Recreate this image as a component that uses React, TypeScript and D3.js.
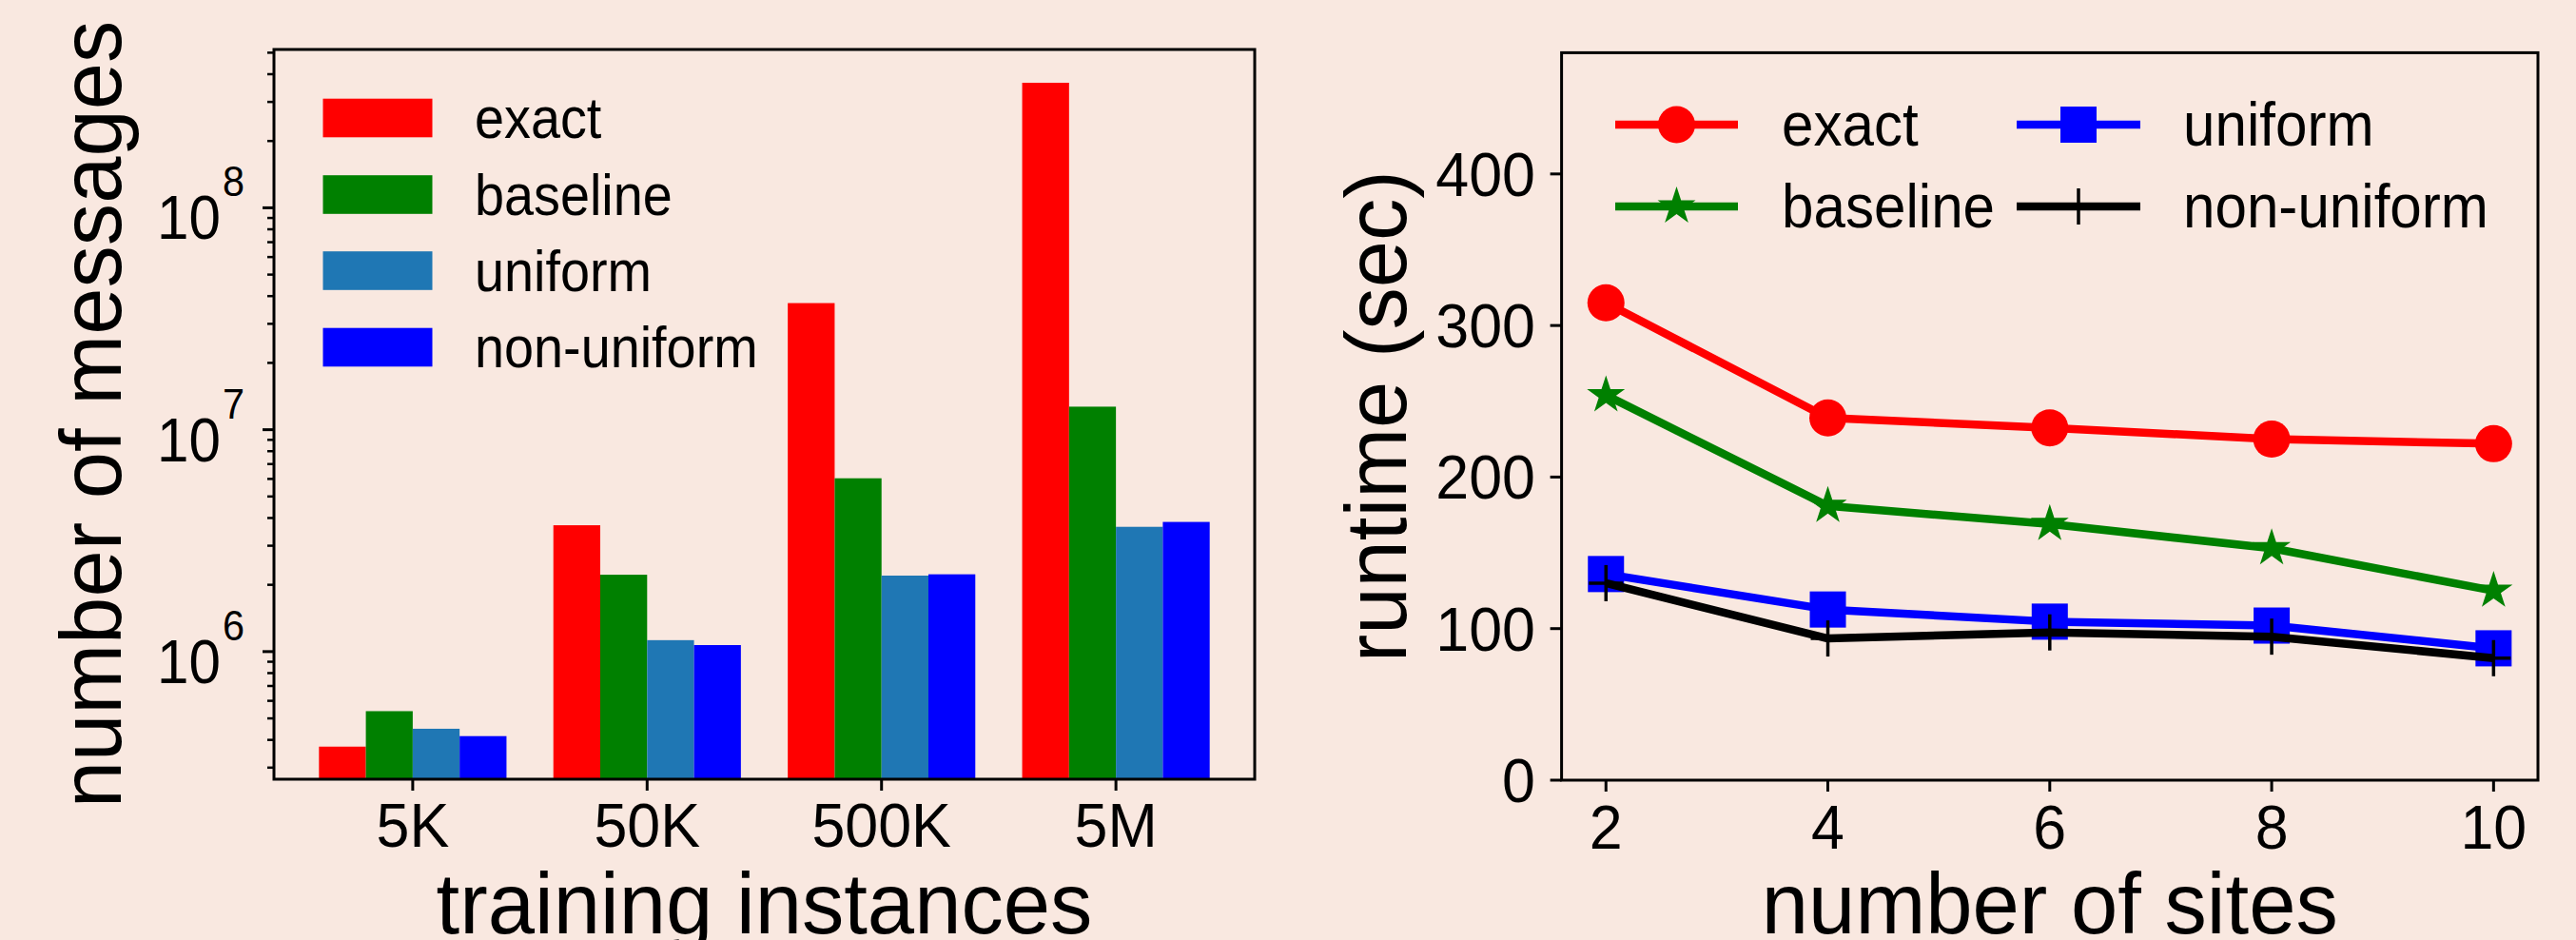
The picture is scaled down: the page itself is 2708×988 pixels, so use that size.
import React from 'react';
import * as d3 from 'd3';

// ---------- data ----------
const categories = ['5K', '50K', '500K', '5M'];
const seriesNames = ['exact', 'baseline', 'uniform', 'non-uniform'];
const exactMsgs = [3.73e5, 3.71e6, 3.72e7, 3.66e8];
const baselineMsgs = [5.39e5, 2.22e6, 6.04e6, 1.27e7];
const uniformMsgs = [4.49e5, 1.126e6, 2.2e6, 3.65e6];
const nonUniformMsgs = [4.16e5, 1.07e6, 2.23e6, 3.84e6];

const sites = [2, 4, 6, 8, 10];
const exactRuntime = [315, 239, 232.5, 225, 222];
const baselineRuntime = [254, 181, 169, 153, 125];
const uniformRuntime = [136, 112.6, 104.6, 102, 87];
const nonUniformRuntime = [130, 93.5, 97.5, 94.7, 80.5];

const runtimeTicks = [0, 100, 200, 300, 400];
const logMajorExps = [6, 7, 8];

// ---------- styles ----------
const BG = '#f9e8e0';
const FONT = "'Liberation Sans', Arial, Helvetica, sans-serif";
const barColors = ['#ff0000', '#008000', '#1f77b4', '#0000ff'];
const lineColors = ['#ff0000', '#008000', '#0000ff', '#000000'];

function T({ x, y, size, sx = 1, anchor = 'start', rot = 0, children }: any) {
  return (
    <g transform={`translate(${x},${y}) rotate(${rot}) scale(${sx},1)`}>
      <text fontSize={size} textAnchor={anchor} fontFamily={FONT} fill="#000">
        {children}
      </text>
    </g>
  );
}

function starPath(cx: number, cy: number, R: number) {
  const r = R * 0.381966;
  const pts: string[] = [];
  for (let i = 0; i < 10; i++) {
    const a = -Math.PI / 2 + (i * Math.PI) / 5;
    const rr = i % 2 === 0 ? R : r;
    pts.push(`${cx + rr * Math.cos(a)},${cy + rr * Math.sin(a)}`);
  }
  return 'M' + pts.join('L') + 'Z';
}

function Marker({ kind, x, y, color }: any) {
  if (kind === 0) return <circle cx={x} cy={y} r={19.5} fill={color} />;
  if (kind === 1) return <path d={starPath(x, y, 21)} fill={color} />;
  if (kind === 2) return <rect x={x - 19} y={y - 19} width={38} height={38} fill={color} />;
  return (
    <g stroke={color} strokeWidth={3.5}>
      <line x1={x - 18} x2={x + 18} y1={y} y2={y} />
      <line x1={x} x2={x} y1={y - 19} y2={y + 19} />
    </g>
  );
}

export default function App() {
  const TICK = 64, TSX = 0.98;
  const LEG = 62, LSX = 0.9, RLSX = 0.94;
  const LAB = 90, LABSX = 0.985;

  // ---------- left bar chart ----------
  const L = { left: 288, right: 1319, top: 52, bottom: 819 };
  const xb = d3.scaleLinear().domain([-0.592, 3.592]).range([L.left, L.right]);
  const yb = d3.scaleLog().domain([2.66e5, 5.17e8]).range([L.bottom, L.top]);
  const msgSeries = [exactMsgs, baselineMsgs, uniformMsgs, nonUniformMsgs];
  const barW = 0.2;

  const minorTicks: number[] = [];
  for (let e = 5; e <= 8; e++) {
    for (let m = 2; m <= 9; m++) {
      const v = m * Math.pow(10, e);
      if (v >= yb.domain()[0] && v <= yb.domain()[1]) minorTicks.push(v);
    }
  }

  // ---------- right line chart ----------
  const R = { left: 1641.6, right: 2668, top: 55.4, bottom: 820 };
  const xl = d3.scaleLinear().domain([1.6, 10.4]).range([R.left, R.right]);
  const yl = d3.scaleLinear().domain([0, 480]).range([R.bottom, R.top]);
  const rtSeries = [exactRuntime, baselineRuntime, uniformRuntime, nonUniformRuntime];
  const line = d3
    .line<number>()
    .x((_, i) => xl(sites[i]))
    .y((d) => yl(d));

  const legRows = [124, 204.5, 284.5, 365];
  const rLegend = [
    { x1: 1698, x2: 1827, tx: 1873, y: 131 },
    { x1: 1698, x2: 1827, tx: 1873, y: 217 },
    { x1: 2120, x2: 2250, tx: 2295, y: 131 },
    { x1: 2120, x2: 2250, tx: 2295, y: 217 },
  ];

  return (
    <svg
      width={2708}
      height={988}
      style={{ position: 'absolute', left: 0, top: 0, display: 'block' }}
    >
      <rect x={0} y={0} width={2708} height={988} fill={BG} />

      {/* ===== Left: bars ===== */}
      {msgSeries.map((vals, k) =>
        vals.map((v, i) => {
          const c = i + (k - 1.5) * barW;
          const x0 = xb(c - barW / 2);
          const x1 = xb(c + barW / 2);
          return (
            <rect
              key={`b${k}-${i}`}
              x={x0}
              y={yb(v)}
              width={x1 - x0}
              height={L.bottom - yb(v)}
              fill={barColors[k]}
            />
          );
        })
      )}
      <rect
        x={L.left}
        y={L.top}
        width={L.right - L.left}
        height={L.bottom - L.top}
        fill="none"
        stroke="#000"
        strokeWidth={3}
      />
      {minorTicks.map((v) => (
        <line key={`mn${v}`} x1={L.left - 7} x2={L.left} y1={yb(v)} y2={yb(v)} stroke="#000" strokeWidth={2.5} />
      ))}
      {logMajorExps.map((e) => {
        const y = yb(Math.pow(10, e));
        return (
          <g key={`mj${e}`}>
            <line x1={L.left - 12} x2={L.left} y1={y} y2={y} stroke="#000" strokeWidth={3} />
            <T x={232} y={y + 33} size={TICK} sx={0.94} anchor="end">10</T>
            <T x={234} y={y - 12} size={44} sx={0.94}>{String(e)}</T>
          </g>
        );
      })}
      {categories.map((c, i) => (
        <g key={`xc${c}`}>
          <line x1={xb(i)} x2={xb(i)} y1={L.bottom} y2={L.bottom + 12} stroke="#000" strokeWidth={3} />
          <T x={xb(i)} y={890} size={TICK} sx={TSX} anchor="middle">{c}</T>
        </g>
      ))}
      <T x={(L.left + L.right) / 2} y={981} size={LAB} sx={LABSX} anchor="middle">training instances</T>
      <T x={127} y={(L.top + L.bottom) / 2} size={LAB} sx={LABSX} anchor="middle" rot={-90}>number of messages</T>
      {seriesNames.map((n, k) => (
        <g key={`ll${n}`}>
          <rect x={339.5} y={legRows[k] - 20.3} width={115} height={40.6} fill={barColors[k]} />
          <T x={499} y={legRows[k] + 21} size={LEG} sx={LSX}>{n}</T>
        </g>
      ))}

      {/* ===== Right: lines ===== */}
      <rect
        x={R.left}
        y={R.top}
        width={R.right - R.left}
        height={R.bottom - R.top}
        fill="none"
        stroke="#000"
        strokeWidth={3}
      />
      {runtimeTicks.map((v) => (
        <g key={`ry${v}`}>
          <line x1={R.left - 12} x2={R.left} y1={yl(v)} y2={yl(v)} stroke="#000" strokeWidth={3} />
          <T x={1614} y={yl(v) + 23} size={TICK} sx={TSX} anchor="end">{String(v)}</T>
        </g>
      ))}
      {sites.map((s) => (
        <g key={`rx${s}`}>
          <line x1={xl(s)} x2={xl(s)} y1={R.bottom} y2={R.bottom + 12} stroke="#000" strokeWidth={3} />
          <T x={xl(s)} y={892} size={TICK} sx={TSX} anchor="middle">{String(s)}</T>
        </g>
      ))}
      {rtSeries.map((vals, k) => (
        <g key={`ln${k}`}>
          <path d={line(vals) || ''} fill="none" stroke={lineColors[k]} strokeWidth={8.5} strokeLinejoin="round" />
          {vals.map((v, i) => (
            <Marker key={i} kind={k} x={xl(sites[i])} y={yl(v)} color={lineColors[k]} />
          ))}
        </g>
      ))}
      <T x={(R.left + R.right) / 2} y={981} size={LAB} sx={LABSX} anchor="middle">number of sites</T>
      <T x={1478} y={(R.top + R.bottom) / 2} size={LAB} sx={LABSX} anchor="middle" rot={-90}>runtime (sec)</T>
      {seriesNames.map((n, k) => {
        const g = rLegend[k];
        return (
          <g key={`rl${n}`}>
            <line x1={g.x1} x2={g.x2} y1={g.y} y2={g.y} stroke={lineColors[k]} strokeWidth={8.5} />
            <Marker kind={k} x={(g.x1 + g.x2) / 2} y={g.y} color={lineColors[k]} />
            <T x={g.tx} y={g.y + 22} size={LEG + 2} sx={RLSX}>{n}</T>
          </g>
        );
      })}
    </svg>
  );
}
